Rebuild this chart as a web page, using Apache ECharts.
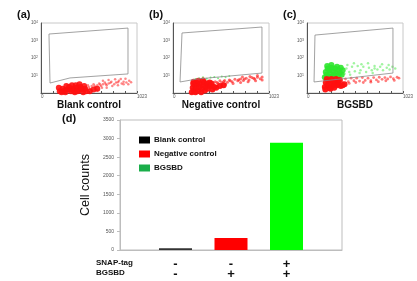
<!DOCTYPE html>
<html>
<head>
<meta charset="UTF-8">
<script src="https://cdn.jsdelivr.net/npm/echarts@6/dist/echarts.min.js"></script>
<style>
  html, body { margin: 0; padding: 0; background: #fff; }
  #main { width: 417px; height: 281px; }
</style>
</head>
<body>
<div id="main"></div>
<script>
// flow panels: x = channel (0-1023), y = fluorescence in log decades (0-4)
var yDecades = [1, 2, 3, 4];
var panelNames = ['Blank control', 'Negative control', 'BGSBD'];
var panelTags = ['(a)', '(b)', '(c)'];

var gateA = [[85, 3.37], [927, 3.71], [927, 1.09], [309, 0.86], [96, 0.57], [85, 3.37]];
var gateB = [[96, 3.43], [948, 3.77], [948, 1.14], [256, 0.8], [75, 0.63], [96, 3.43]];
var gateC = [[85, 3.31], [916, 3.71], [916, 1.14], [75, 0.63], [85, 3.31]];

var redCoreA = [[200,0.1],[230,0.25],[260,0.05],[280,0.2],[300,0.35],[320,0.1],[340,0.25],[360,0.05],[380,0.3],
  [400,0.15],[420,0.35],[440,0.2],[460,0.4],[250,0.15],[310,0.2],[350,0.15],[390,0.1],[430,0.25],[220,0.05],[470,0.25],
  [190,0.3],[270,0.4],[330,0.45],[370,0.45],[410,0.5],[450,0.05],[480,0.1],[520,0.1],[560,0.2],[600,0.25]];
var redSpreadA = [[480,0.3],[500,0.45],[520,0.25],[540,0.4],[560,0.5],[580,0.35],[600,0.45],[620,0.55],[640,0.4],
  [660,0.5],[680,0.6],[700,0.45],[720,0.55],[750,0.65],[780,0.5],[800,0.6],[830,0.7],[860,0.55],[880,0.65],
  [910,0.6],[940,0.7],[960,0.62],[510,0.35],[570,0.42],[630,0.48],[690,0.52],[740,0.58],[820,0.62],
  [540,0.15],[600,0.15],[650,0.3],[700,0.3],[760,0.4],[820,0.45],[880,0.5],[930,0.5],[720,0.75],[790,0.78],
  [850,0.8],[900,0.82],[660,0.7]];

var redCoreB = [[200,0.05],[210,0.3],[220,0.15],[230,0.45],[240,0.05],[250,0.3],[260,0.5],[270,0.15],[280,0.35],
  [290,0.55],[300,0.05],[310,0.25],[320,0.45],[330,0.6],[340,0.15],[350,0.35],[360,0.55],[370,0.25],[380,0.45],
  [390,0.6],[400,0.4],[410,0.55],[215,0.55],[245,0.6],[420,0.2],[440,0.35],[460,0.3],[500,0.4],[540,0.45],
  [220,0.65],[270,0.7],[320,0.72]];
var redSpreadB = [[430,0.5],[450,0.65],[480,0.55],[500,0.7],[520,0.6],[550,0.72],[580,0.62],[600,0.75],[630,0.65],
  [660,0.78],[690,0.7],[720,0.8],[750,0.72],[780,0.85],[810,0.75],[840,0.88],[870,0.8],[900,0.9],[930,0.82],
  [950,0.92],[470,0.6],[540,0.66],[610,0.7],[700,0.76],[760,0.8],[860,0.85],[560,0.5],[640,0.55],[720,0.6],
  [800,0.65],[880,0.7],[950,0.75],[900,1.0],[820,0.95],[740,0.92]];
var greenB = [[240,0.8],[280,0.85],[320,0.9],[360,0.82],[400,0.88],[440,0.92],[480,0.85],[520,0.95],[560,0.9],[600,0.97]];

var greenCoreC = [[190,0.9],[200,1.2],[210,1.05],[220,1.4],[230,0.95],[240,1.3],[250,1.1],[260,1.45],[270,0.95],
  [280,1.25],[290,1.05],[300,1.4],[310,1.15],[320,1.5],[330,1.0],[340,1.3],[350,1.15],[360,1.45],[370,1.05],
  [380,1.3],[215,1.55],[260,1.6]];
var greenSpreadC = [[400,1.1],[420,1.4],[450,1.2],[480,1.5],[510,1.25],[540,1.55],[570,1.3],[600,1.5],[630,1.2],
  [660,1.45],[690,1.3],[720,1.55],[750,1.35],[780,1.5],[810,1.3],[850,1.45],[880,1.35],[910,1.5],
  [430,1.6],[500,1.7],[580,1.65],[650,1.7],[720,1.4],[800,1.65],[870,1.6],[940,1.4],[460,1.05],[560,1.15],[700,1.15]];
var redCoreC = [[190,0.35],[200,0.6],[210,0.8],[220,0.45],[230,0.7],[240,0.3],[250,0.55],[260,0.8],[270,0.4],
  [280,0.65],[290,0.3],[300,0.55],[310,0.8],[320,0.45],[330,0.7],[340,0.5],[350,0.75],[360,0.4],[380,0.45],
  [400,0.5],[195,0.2],[250,0.25]];
var redSpreadC = [[380,0.6],[410,0.8],[440,0.65],[470,0.85],[500,0.7],[530,0.85],[560,0.68],[590,0.88],[620,0.72],
  [650,0.85],[680,0.7],[710,0.88],[740,0.75],[770,0.9],[800,0.78],[830,0.88],[860,0.8],[890,0.92],[920,0.82],[960,0.9],
  [450,0.55],[520,0.6],[600,0.6],[680,0.62],[760,0.65],[840,0.7],[930,0.72],[980,0.85]];

// panel d
var groups = ['Blank control', 'Negative control', 'BGSBD'];
var counts = [50, 320, 2890];
var snapTag = ['-', '-', '+'];
var bgsbd = ['-', '+', '+'];
var rowNames = ['SNAP-tag', 'BGSBD'];

var barColors = ['#333333', '#ff0000', '#00ff00'];
var legendColors = ['#000000', '#ff0000', '#1aae4a'];
var RED = '#ff1010', GREEN = '#2ee62e';

var myChart = echarts.init(document.getElementById('main'));

var lefts = [41, 173, 307];
var grids = [], xAxes = [], yAxes = [], titles = [];
for (var i = 0; i < 3; i++) {
  grids.push({ left: lefts[i], top: 23, width: 96, height: 70, show: true, borderColor: '#c8c8c8', borderWidth: 1 });
  xAxes.push({
    gridIndex: i, type: 'value', min: 0, max: 1023, interval: 128,
    name: panelNames[i], nameLocation: 'middle', nameGap: 5,
    nameTextStyle: { fontFamily: 'Liberation Sans', fontWeight: 'bold', fontSize: 10, color: '#111' },
    axisLine: { lineStyle: { color: '#555', width: 1 } },
    axisTick: { inside: true, length: 2, lineStyle: { color: '#555' } },
    splitLine: { show: false },
    axisLabel: {
      fontSize: 4.5, color: '#555', margin: 1, align: 'left', showMaxLabel: true,
      formatter: function (v) { return v === 0 ? '0' : (v === 1023 ? '1023' : ''); }
    }
  });
  yAxes.push({
    gridIndex: i, type: 'value', min: 0, max: 4, interval: 1,
    axisLine: { show: true, lineStyle: { color: '#555', width: 1 } },
    axisTick: { show: false },
    splitLine: { show: false },
    axisLabel: {
      fontSize: 4.5, color: '#555', margin: 3,
      formatter: function (v) { return yDecades.indexOf(v) >= 0 ? '10{s|' + v + '}' : ''; },
      rich: { s: { fontSize: 3.5, verticalAlign: 'top', color: '#555' } }
    }
  });
  titles.push({ text: panelTags[i], left: lefts[i] - 24, top: 9, padding: 0,
    textStyle: { fontFamily: 'Liberation Sans', fontWeight: 'bold', fontSize: 11, color: '#111' } });
}
titles.push({ text: '(d)', left: 62, top: 113, padding: 0,
  textStyle: { fontFamily: 'Liberation Sans', fontWeight: 'bold', fontSize: 11, color: '#111' } });

// bar panel
grids.push({ left: 120, top: 120, width: 222, height: 130, show: true, borderColor: '#bdbdbd', borderWidth: 1 });
xAxes.push({
  gridIndex: 3, type: 'value', min: 0, max: 4, interval: 1,
  axisLine: { lineStyle: { color: '#bdbdbd' } },
  axisTick: { show: false },
  splitLine: { show: false },
  axisLabel: {
    margin: 9, fontFamily: 'Liberation Sans', fontWeight: 'bold', fontSize: 13, lineHeight: 10, color: '#111',
    formatter: function (v) { return (v >= 1 && v <= 3) ? snapTag[v - 1] + '\n' + bgsbd[v - 1] : ''; }
  }
});
yAxes.push({
  gridIndex: 3, type: 'value', min: 0, max: 3500, interval: 500,
  name: 'Cell counts', nameLocation: 'middle', nameGap: 21,
  nameTextStyle: { fontFamily: 'Liberation Sans', fontSize: 12.5, color: '#111' },
  axisLine: { show: true, lineStyle: { color: '#bdbdbd' } },
  axisTick: { show: true, length: 3, lineStyle: { color: '#bdbdbd' } },
  splitLine: { show: false },
  axisLabel: { fontSize: 5, color: '#555', margin: 6, formatter: function (v) { return String(v); } }
});

function scat(idx, data, color, size, op) {
  return { type: 'scatter', xAxisIndex: idx, yAxisIndex: idx, data: data, symbolSize: size,
    itemStyle: { color: color, opacity: op }, silent: true, z: 2 };
}
function gate(idx, data) {
  return { type: 'line', xAxisIndex: idx, yAxisIndex: idx, data: data, symbol: 'none',
    lineStyle: { color: '#8a8a8a', width: 0.8 }, silent: true, z: 3 };
}

var series = [
  gate(0, gateA), scat(0, redSpreadA, RED, 2.5, 0.5), scat(0, redCoreA, RED, 6, 0.9),
  gate(1, gateB), scat(1, greenB, GREEN, 2, 0.6), scat(1, redSpreadB, RED, 3, 0.6), scat(1, redCoreB, RED, 6, 0.95),
  gate(2, gateC), scat(2, greenSpreadC, GREEN, 2.5, 0.45), scat(2, greenCoreC, GREEN, 6, 0.9),
  scat(2, redSpreadC, RED, 2.8, 0.55), scat(2, redCoreC, RED, 6, 0.95)
];
for (var j = 0; j < groups.length; j++) {
  series.push({
    name: groups[j], type: 'bar', xAxisIndex: 3, yAxisIndex: 3, stack: 'all', barWidth: 33,
    itemStyle: { color: barColors[j] },
    data: [[j + 1, counts[j]]]
  });
}

var legendData = groups.map(function (g, k) { return { name: g, itemStyle: { color: legendColors[k] } }; });

option = {
  backgroundColor: '#ffffff',
  animation: false,
  title: titles,
  grid: grids,
  xAxis: xAxes,
  yAxis: yAxes,
  legend: {
    data: legendData, orient: 'vertical', left: 134, top: 131,
    itemWidth: 11, itemHeight: 7, itemGap: 6, icon: 'rect',
    textStyle: { fontFamily: 'Liberation Sans', fontWeight: 'bold', fontSize: 8, color: '#111', padding: [0, 0, 0, -1] }
  },
  graphic: [
    { type: 'text', left: 96, top: 259, style: { text: rowNames[0], font: 'bold 8px "Liberation Sans"', fill: '#111' } },
    { type: 'text', left: 96, top: 269, style: { text: rowNames[1], font: 'bold 8px "Liberation Sans"', fill: '#111' } }
  ],
  series: series
};

myChart.setOption(option);
</script>
</body>
</html>
